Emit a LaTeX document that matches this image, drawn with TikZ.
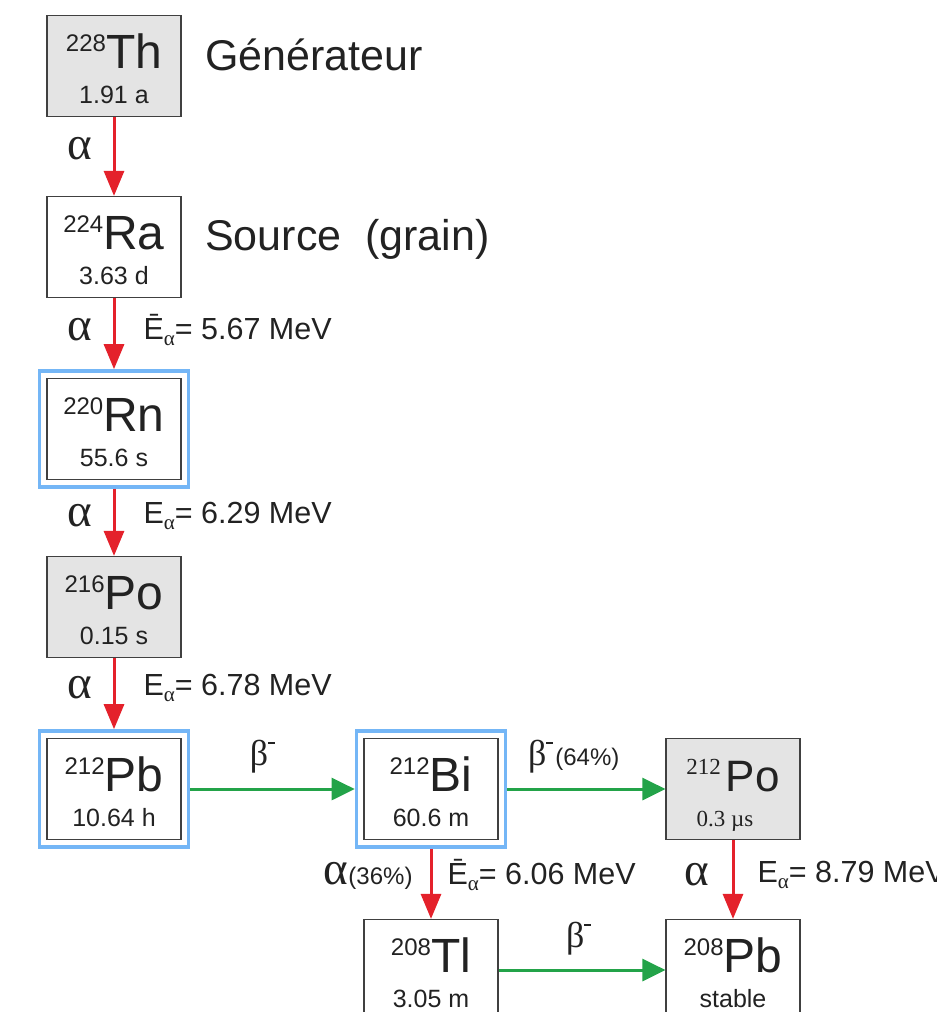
\documentclass[tikz,border=0pt]{standalone}
\usepackage{fontspec}
\setmainfont{Liberation Sans}
\newfontfamily\serf{Liberation Serif}
\usetikzlibrary{arrows.meta,positioning,fit}
\definecolor{dcRed}{HTML}{E4212B}
\definecolor{dcGreen}{HTML}{23A349}
\definecolor{dcBlue}{HTML}{74B6F6}
\definecolor{dcGray}{HTML}{E4E4E4}
\definecolor{dcInk}{HTML}{222222}
\definecolor{dcEdge}{HTML}{404040}

\newcommand\fs[1]{\fontsize{#1}{#1}\selectfont}
% mass number raised to the top of the symbol
\newcommand\nucl[2]{\raisebox{17pt}{\fs{24}#1}\fs{48}#2}
\newcommand\subal{\raisebox{-6pt}{\serf\fs{21}α}}
\newcommand\bminus{β\raisebox{22pt}{\rule{7pt}{1.6pt}}}

\begin{document}
\begin{tikzpicture}[x=1pt, y=-1pt,
  nuc/.style={draw=dcEdge, line width=1.2pt, minimum width=134pt, minimum height=101pt, inner sep=0pt},
  hot/.style={draw=dcBlue, line width=3.5pt, inner sep=7pt},
  sym/.style={anchor=base, inner sep=0pt, text=dcInk},
  life/.style={anchor=base, inner sep=0pt, text=dcInk, font=\fs{25}},
  decA/.style={draw=dcRed, line width=3pt, -{Triangle[width=20pt,length=25pt]}},
  decB/.style={draw=dcGreen, line width=3pt, -{Triangle[width=22pt,length=23pt]}},
  lab/.style={inner sep=0pt, text=dcInk, font=\fs{30.5}},
  glab/.style={inner sep=0pt, text=dcInk, font=\serf\fs{47}},
  blab/.style={inner sep=0pt, text=dcInk, font=\serf\fs{36}},
  side/.style={anchor=base west, inner sep=0pt, text=dcInk, font=\fs{43}},
]
\useasboundingbox (0,0) rectangle (937,1012);

% nuclides: name/x/y/mass/symbol/half-life/fill
\foreach \nm/\cx/\cy/\A/\el/\hl/\bg in {
    th228/114/66/228/Th/1.91 a/dcGray,
    ra224/114/247/224/Ra/3.63 d/white,
    rn220/114/429/220/Rn/55.6 s/white,
    po216/114/607/216/Po/0.15 s/dcGray,
    pb212/114/789/212/Pb/10.64 h/white,
    bi212/431/789/212/Bi/60.6 m/white,
    tl208/431/970/208/Tl/3.05 m/white,
    pb208/733/970/208/Pb/stable/white} {
  \node[nuc, fill=\bg] (\nm) at (\cx,\cy) {};
  \node[sym] (\nm-s) at ([yshift=-2pt]\nm.center) {\nucl{\A}{\el}};
  \node[life] (\nm-l) at ([yshift=-37pt]\nm.center) {\hl};
}

% 212Po is set in another font
\node[nuc, fill=dcGray] (po212) at (733,789) {};
\node[sym] (po212-s) at ([yshift=-2pt]po212.center)
  {\raisebox{17pt}{\serf\fs{23}212}\hspace{5pt}\fs{44}Po};
\node[life, font=\serf\fs{23}] (po212-l) at ([xshift=-8pt,yshift=-37pt]po212.center) {0.3 µs};

% blue frames
\foreach \nm in {rn220,pb212,bi212}
  \node[hot, fit=(\nm)] (\nm-fr) {};

\node[side] (gen) at (205,70) {Générateur};
\node[side] (src) at (205,250) {Source\ \ (grain)};

% alpha decays
\draw[decA] (th228) -- node[glab, pos=0.4, left=20pt] (a1) {α} (ra224);
\draw[decA] (ra224) -- node[glab, pos=0.45, left=20pt] (a2) {α}
  node[lab, pos=0.45, right=28pt] (e2) {Ē\subal= 5.67 MeV} (rn220-fr);
\draw[decA] (rn220-fr) -- node[glab, pos=0.4, left=20pt] (a3) {α}
  node[lab, pos=0.4, right=28pt] (e3) {E\subal= 6.29 MeV} (po216);
\draw[decA] (po216) -- node[glab, pos=0.42, left=20pt] (a4) {α}
  node[lab, pos=0.42, right=28pt] (e4) {E\subal= 6.78 MeV} (pb212-fr);
\draw[decA] (bi212-fr) -- node[pos=0.38, left=17pt, inner sep=0pt, text=dcInk] (a5)
    {{\serf\fs{47}α}{\fs{24}(36\%)}}
  node[lab, pos=0.38, right=15pt] (e5) {Ē\subal= 6.06 MeV} (tl208);
\draw[decA] (po212) -- node[glab, pos=0.44, left=22pt] (a6) {α}
  node[lab, pos=0.44, right=23pt] (e6) {E\subal= 8.79 MeV} (pb208);

% beta decays
\draw[decB] (pb212-fr) -- node[blab, pos=0.44, above=14pt] (b1) {\bminus} (bi212-fr);
\draw[decB] (bi212-fr) -- node[blab, pos=0.42, above=14pt] (b2)
  {\bminus\hspace{2pt}{\fontspec{Liberation Sans}\fs{24}(64\%)}} (po212);
\draw[decB] (tl208) -- node[blab, pos=0.48, above=13pt] (b3) {\bminus} (pb208);

\end{tikzpicture}
\end{document}
